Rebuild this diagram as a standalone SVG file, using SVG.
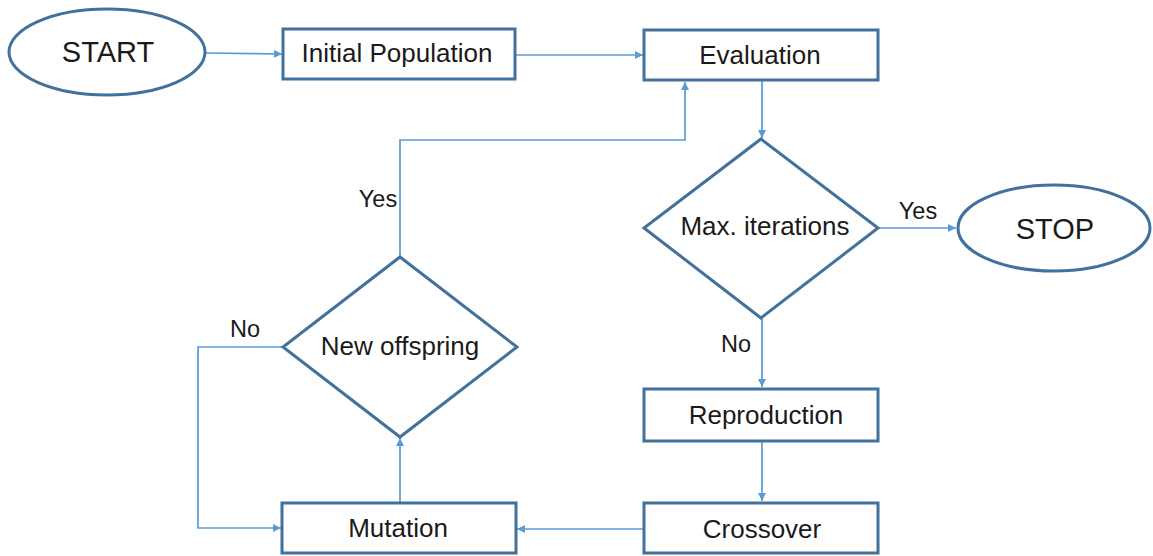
<svg xmlns="http://www.w3.org/2000/svg" width="1153" height="556" viewBox="0 0 1153 556">
<style>
.n{fill:#fff;stroke:#41719c;stroke-width:3}
.c{fill:none;stroke:#5b9bd5;stroke-width:1.7}
.t{font-family:"Liberation Sans",Arial,sans-serif;font-size:26px;fill:#1a1a1a;text-anchor:middle;dominant-baseline:central}
.big{font-size:29px}
.l{font-family:"Liberation Sans",Arial,sans-serif;font-size:23.5px;fill:#1a1a1a;text-anchor:middle;dominant-baseline:central}
</style>
<defs>
<marker id="a" viewBox="0 0 10 10" refX="10" refY="5" markerWidth="8" markerHeight="8" markerUnits="userSpaceOnUse" orient="auto"><path d="M0,0L10,5L0,10z" fill="#5b9bd5"/></marker>
</defs>
<rect width="1153" height="556" fill="#fff"/>
<g id="connectors">
<path class="c" d="M205,53 L282,54" marker-end="url(#a)"/>
<path class="c" d="M516,55 L643,55" marker-end="url(#a)"/>
<path class="c" d="M762,81 L762,138" marker-end="url(#a)"/>
<path class="c" d="M878,228 L956,228" marker-end="url(#a)"/>
<path class="c" d="M762,318 L762,387" marker-end="url(#a)"/>
<path class="c" d="M762,441 L762,501" marker-end="url(#a)"/>
<path class="c" d="M644,529 L517,529" marker-end="url(#a)"/>
<path class="c" d="M400,502 L400,438" marker-end="url(#a)"/>
<path class="c" d="M283,347 L198,347 L198,528 L281,528" marker-end="url(#a)"/>
<path class="c" d="M400,257 L400,140 L685,140 L685,82" marker-end="url(#a)"/>
<text class="l" x="918" y="211">Yes</text>
<text class="l" x="736" y="344">No</text>
<text class="l" x="245" y="329">No</text>
<text class="l" x="378" y="199">Yes</text>
</g>
<g id="start"><ellipse class="n" cx="107" cy="52" rx="98" ry="43"/><text class="t big" x="108" y="52">START</text></g>
<g id="init"><rect class="n" x="283" y="29" width="232" height="50"/><text class="t" x="397" y="53">Initial Population</text></g>
<g id="eval"><rect class="n" x="644" y="30" width="234" height="50"/><text class="t" x="760" y="55">Evaluation</text></g>
<g id="maxit"><polygon class="n" points="761,139 878,228 761,318 644,228"/><text class="t" x="765" y="226">Max. iterations</text></g>
<g id="stop"><ellipse class="n" cx="1054" cy="228" rx="96" ry="43"/><text class="t big" x="1055" y="229">STOP</text></g>
<g id="repro"><rect class="n" x="644" y="389" width="234" height="52"/><text class="t" x="766" y="415">Reproduction</text></g>
<g id="cross"><rect class="n" x="644" y="503" width="234" height="50"/><text class="t" x="762" y="529">Crossover</text></g>
<g id="mut"><rect class="n" x="282" y="503" width="234" height="50"/><text class="t" x="398" y="528">Mutation</text></g>
<g id="newoff"><polygon class="n" points="400,257 517,347 400,437 283,347"/><text class="t" x="400" y="346">New offspring</text></g>
</svg>
